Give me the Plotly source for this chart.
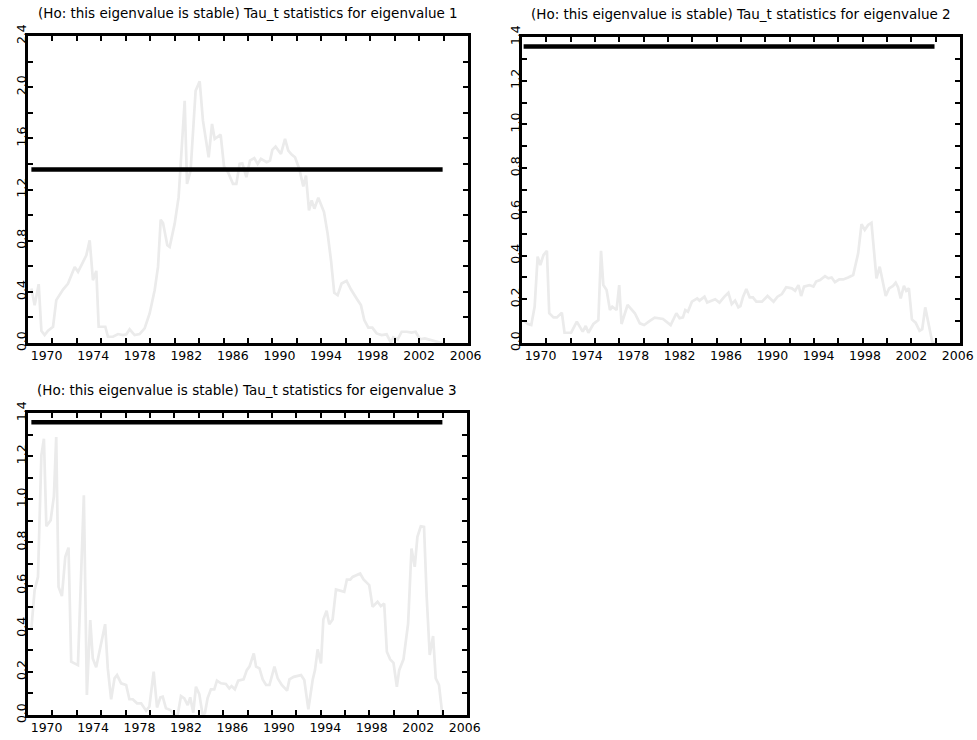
import plotly.graph_objects as go

# Tau_t stability statistics for three eigenvalues, quarterly sample 1968-2004
dates_ev1 = [1968.69, 1968.97, 1969.32, 1969.55, 1969.83, 1970.12, 1970.55, 1970.83, 1971.41, 1971.84,
             1972.41, 1972.70, 1973.13, 1973.41, 1973.70, 1973.98, 1974.27, 1974.47, 1975.04, 1975.27,
             1975.70, 1976.13, 1976.56, 1976.85, 1977.13, 1977.56, 1977.99, 1978.42, 1978.85, 1979.28,
             1979.57, 1979.80, 1980.00, 1980.37, 1980.57, 1981.00, 1981.34, 1981.63, 1981.86, 1982.06,
             1982.37, 1982.80, 1983.15, 1983.43, 1983.92, 1984.21, 1984.44, 1984.95, 1985.24, 1985.58,
             1986.01, 1986.30, 1986.58, 1986.81, 1987.16, 1987.47, 1987.84, 1988.13, 1988.41, 1988.90,
             1989.19, 1989.39, 1989.67, 1990.13, 1990.48, 1990.76, 1991.05, 1991.34, 1991.71, 1992.05,
             1992.28, 1992.54, 1992.77, 1993.00, 1993.34, 1993.83, 1994.14, 1994.43, 1994.71, 1995.00,
             1995.34, 1995.77, 1996.15, 1996.63, 1997.00, 1997.29, 1997.64, 1997.98, 1998.35, 1998.78,
             1999.21, 1999.58, 1999.78, 2000.16, 2000.50, 2000.93, 2001.36, 2001.70, 2002.07, 2002.50,
             2002.93, 2003.36, 2003.79, 2004.02]
tau_ev1 = [0.426, 0.296, 0.460, 0.096, 0.062, 0.096, 0.127, 0.335, 0.418, 0.465,
           0.595, 0.556, 0.634, 0.686, 0.803, 0.491, 0.564, 0.127, 0.127, 0.049,
           0.049, 0.070, 0.062, 0.068, 0.107, 0.062, 0.070, 0.114, 0.231, 0.413,
           0.595, 0.964, 0.938, 0.764, 0.751, 0.933, 1.140, 1.556, 1.894, 1.244,
           1.348, 1.972, 2.045, 1.738, 1.452, 1.712, 1.595, 1.629, 1.380, 1.335,
           1.244, 1.244, 1.400, 1.405, 1.296, 1.426, 1.445, 1.400, 1.439, 1.413,
           1.426, 1.510, 1.535, 1.478, 1.595, 1.504, 1.473, 1.452, 1.361, 1.224,
           1.309, 1.037, 1.115, 1.050, 1.135, 1.024, 0.855, 0.647, 0.392, 0.374,
           0.465, 0.486, 0.418, 0.348, 0.296, 0.179, 0.120, 0.120, 0.075, 0.062,
           0.068, 0.003, 0.044, 0.029, 0.088, 0.088, 0.081, 0.088, 0.029, 0.036,
           0.023, 0.010, 0.003, 0.000]

dates_ev2 = [1968.54, 1968.92, 1969.20, 1969.49, 1969.75, 1969.98, 1970.26, 1970.55, 1970.75, 1971.12,
             1971.41, 1971.84, 1972.07, 1972.64, 1973.13, 1973.64, 1973.90, 1974.13, 1974.56, 1974.99,
             1975.22, 1975.42, 1975.70, 1975.99, 1976.19, 1976.56, 1976.79, 1976.99, 1977.51, 1978.14,
             1978.57, 1978.94, 1979.43, 1979.85, 1980.57, 1980.86, 1981.23, 1981.72, 1982.00, 1982.29,
             1982.49, 1982.72, 1983.06, 1983.52, 1983.72, 1984.15, 1984.38, 1985.07, 1985.44, 1985.87,
             1986.21, 1986.50, 1986.79, 1987.07, 1987.25, 1987.48, 1987.76, 1988.05, 1988.33, 1988.62,
             1989.11, 1989.59, 1990.11, 1990.45, 1990.83, 1991.20, 1991.69, 1991.97, 1992.26, 1992.49,
             1992.74, 1993.20, 1993.55, 1993.78, 1994.12, 1994.55, 1994.84, 1995.12, 1995.41, 1995.78,
             1996.12, 1996.55, 1996.98, 1997.41, 1997.70, 1997.98, 1998.27, 1998.56, 1998.99, 1999.27,
             1999.79, 2000.08, 2000.42, 2000.65, 2000.85, 2001.08, 2001.36, 2001.56, 2001.79, 2002.05,
             2002.37, 2002.71, 2002.94, 2003.20, 2003.51, 2003.80, 2004.00]
tau_ev2 = [0.102, 0.087, 0.082, 0.166, 0.395, 0.357, 0.403, 0.422, 0.136, 0.117,
           0.117, 0.139, 0.047, 0.047, 0.098, 0.052, 0.078, 0.047, 0.087, 0.105,
           0.422, 0.265, 0.242, 0.151, 0.166, 0.151, 0.265, 0.087, 0.174, 0.136,
           0.090, 0.082, 0.101, 0.116, 0.110, 0.098, 0.082, 0.136, 0.113, 0.117,
           0.151, 0.143, 0.189, 0.204, 0.194, 0.212, 0.185, 0.200, 0.185, 0.212,
           0.230, 0.178, 0.194, 0.163, 0.169, 0.212, 0.247, 0.209, 0.209, 0.189,
           0.189, 0.215, 0.189, 0.212, 0.224, 0.255, 0.250, 0.239, 0.265, 0.215,
           0.258, 0.265, 0.258, 0.281, 0.288, 0.306, 0.296, 0.300, 0.278, 0.291,
           0.291, 0.300, 0.311, 0.410, 0.544, 0.517, 0.540, 0.550, 0.296, 0.349,
           0.215, 0.250, 0.261, 0.276, 0.255, 0.204, 0.261, 0.239, 0.250, 0.108,
           0.093, 0.056, 0.063, 0.163, 0.072, 0.006, 0.000]

dates_ev3 = [1968.69, 1968.97, 1969.26, 1969.55, 1969.77, 1969.98, 1970.35, 1970.63, 1970.83, 1971.03,
             1971.32, 1971.61, 1971.89, 1972.12, 1972.70, 1973.21, 1973.47, 1973.76, 1973.98, 1974.27,
             1975.04, 1975.27, 1975.56, 1975.85, 1976.07, 1976.42, 1976.85, 1977.13, 1977.42, 1977.79,
             1978.14, 1978.57, 1978.85, 1979.22, 1979.51, 1979.80, 1980.00, 1980.28, 1980.66, 1981.00,
             1981.29, 1981.57, 1981.86, 1982.15, 1982.37, 1982.63, 1982.86, 1983.15, 1983.43, 1983.63,
             1983.86, 1984.15, 1984.44, 1984.67, 1985.01, 1985.44, 1985.73, 1985.93, 1986.21, 1986.50,
             1986.96, 1987.24, 1987.47, 1987.84, 1988.04, 1988.33, 1988.61, 1988.90, 1989.19, 1989.62,
             1989.90, 1990.25, 1990.71, 1990.91, 1991.28, 1991.91, 1992.19, 1992.54, 1992.91, 1993.11,
             1993.34, 1993.63, 1993.83, 1994.11, 1994.34, 1994.63, 1994.92, 1995.29, 1995.63, 1995.86,
             1996.15, 1996.35, 1996.63, 1997.00, 1997.29, 1997.78, 1998.07, 1998.50, 1998.78, 1999.07,
             1999.30, 1999.58, 1999.87, 2000.16, 2000.36, 2000.73, 2001.13, 2001.42, 2001.70, 2001.93,
             2002.22, 2002.50, 2002.73, 2002.99, 2003.28, 2003.51, 2003.79, 2004.08]
tau_ev3 = [0.401, 0.579, 0.640, 1.204, 1.281, 0.875, 0.903, 1.014, 1.289, 0.594,
           0.551, 0.733, 0.776, 0.247, 0.231, 1.019, 0.093, 0.440, 0.262, 0.221,
           0.421, 0.216, 0.073, 0.170, 0.185, 0.147, 0.139, 0.073, 0.073, 0.054,
           0.054, 0.020, 0.039, 0.201, 0.035, 0.082, 0.085, 0.031, 0.023, 0.000,
           0.000, 0.088, 0.077, 0.046, 0.082, 0.011, 0.131, 0.097, 0.003, 0.008,
           0.077, 0.119, 0.119, 0.159, 0.147, 0.144, 0.123, 0.134, 0.119, 0.159,
           0.165, 0.208, 0.224, 0.285, 0.224, 0.216, 0.165, 0.139, 0.139, 0.224,
           0.170, 0.139, 0.113, 0.165, 0.177, 0.185, 0.162, 0.026, 0.162, 0.208,
           0.304, 0.239, 0.443, 0.483, 0.421, 0.443, 0.582, 0.576, 0.571, 0.628,
           0.628, 0.640, 0.648, 0.656, 0.628, 0.602, 0.502, 0.525, 0.505, 0.517,
           0.293, 0.258, 0.242, 0.131, 0.208, 0.258, 0.424, 0.772, 0.687, 0.826,
           0.875, 0.872, 0.548, 0.278, 0.366, 0.170, 0.139, 0.000]

critical_value = 1.357
year_labels = ["1970", "1974", "1978", "1982", "1986", "1990", "1994", "1998", "2002", "2006"]
titles = ["(Ho: this eigenvalue is stable) Tau_t statistics for eigenvalue 1",
          "(Ho: this eigenvalue is stable) Tau_t statistics for eigenvalue 2",
          "(Ho: this eigenvalue is stable) Tau_t statistics for eigenvalue 3"]

W, H = 977, 740
FONT = "DejaVu Sans"
X_RANGE = [1968.4, 2006.2]
GREY = "#ebebeb"

# pixel boxes (left, right, top, bottom) and y-axis settings for each panel
panels = [
    dict(dates=dates_ev1, tau=tau_ev1, box=(28, 468, 36, 343), ymax=2.4, ystep=0.2),
    dict(dates=dates_ev2, tau=tau_ev2, box=(522, 960, 37, 343), ymax=1.4, ystep=0.1),
    dict(dates=dates_ev3, tau=tau_ev3, box=(28, 467, 413, 715), ymax=1.4, ystep=0.1),
]


def px_x(v):
    return v / W


def px_y(v):
    return 1 - v / H


fig = go.Figure()
layout = {}
n = len(panels)
for i, p in enumerate(panels):
    k = i + 1
    lbl = n + k  # overlay axis carrying the year labels
    xa, ya, xl = f"x{k}", f"y{k}", f"x{lbl}"
    l, r, t, b = p["box"]
    xdom = [px_x(l), px_x(r)]
    ydom = [px_y(b), px_y(t)]

    fig.add_trace(go.Scatter(x=p["dates"], y=p["tau"], mode="lines",
                             line=dict(color=GREY, width=2.7),
                             xaxis=xa, yaxis=ya, showlegend=False, hoverinfo="skip"))
    fig.add_trace(go.Scatter(x=[p["dates"][0], p["dates"][-1]],
                             y=[critical_value, critical_value], mode="lines",
                             line=dict(color="black", width=4.5),
                             xaxis=xl, yaxis=ya, showlegend=False, hoverinfo="skip"))

    # y tick marks every ystep, labels every second mark
    nsteps = int(round(p["ymax"] / p["ystep"]))
    yvals = [round(j * p["ystep"], 2) for j in range(nsteps + 1)]
    ytext = [f"{v:.1f}" if j % 2 == 0 else "" for j, v in enumerate(yvals)]

    axis_frame = dict(showline=True, linecolor="black", linewidth=3, mirror="ticks",
                      ticks="inside", ticklen=5, tickwidth=1.5, tickcolor="black",
                      showgrid=False, zeroline=False, fixedrange=True, automargin=False)
    tick_step = (X_RANGE[1] - X_RANGE[0]) / 18
    layout[f"xaxis{k}"] = dict(domain=xdom, anchor=ya, range=X_RANGE,
                               tickmode="linear", tick0=X_RANGE[0], dtick=tick_step,
                               showticklabels=False, **axis_frame)
    layout[f"xaxis{lbl}"] = dict(domain=xdom, anchor=ya, overlaying=xa, side="bottom",
                                 range=X_RANGE, tickmode="array",
                                 tickvals=[int(s) for s in year_labels], ticktext=year_labels,
                                 ticks="", showline=False, showgrid=False, zeroline=False,
                                 ticklabelstandoff=3, automargin=False,
                                 tickfont=dict(family=FONT, size=12.5, color="black"),
                                 fixedrange=True)
    layout[f"yaxis{k}"] = dict(domain=ydom, anchor=xa, range=[0, p["ymax"]],
                               tickmode="array", tickvals=yvals, ticktext=ytext,
                               tickangle=-90, ticklabelstandoff=-6,
                               tickfont=dict(family=FONT, size=12.5, color="black"),
                               **axis_frame)

annotations = []
for i, p in enumerate(panels):
    l, r, t, b = p["box"]
    annotations.append(dict(text=titles[i], xref="paper", yref="paper",
                            x=px_x((l + r) / 2), y=px_y(t - 23),
                            xanchor="center", yanchor="middle", showarrow=False,
                            font=dict(family=FONT, size=13.5, color="black")))

fig.update_layout(width=W, height=H, margin=dict(l=0, r=0, t=0, b=0),
                  paper_bgcolor="white", plot_bgcolor="white",
                  annotations=annotations, **layout)

fig.write_html("out.html")
